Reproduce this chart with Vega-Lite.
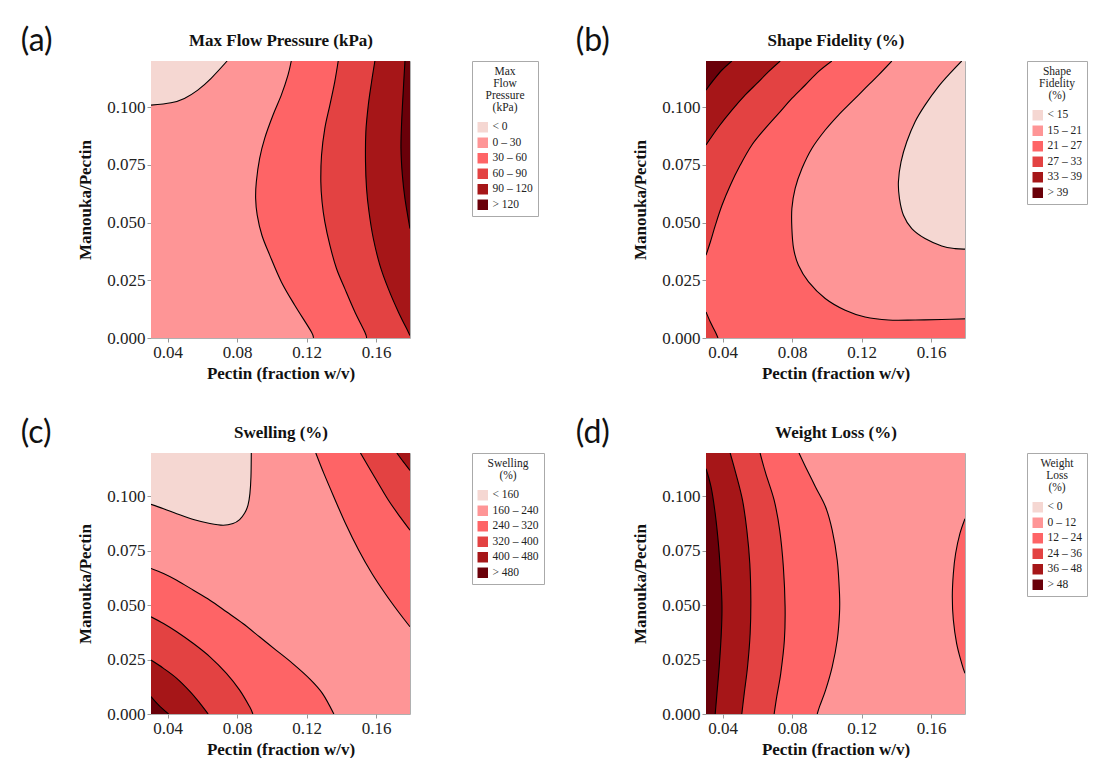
{
"$schema":"https://vega.github.io/schema/vega-lite/v6.json",
"padding":{"left":20,"top":24,"right":0,"bottom":0},
"columns":2,
"spacing":{"row":34,"column":30},
"resolve":{"scale":{"color":"independent"},"legend":{"color":"independent"}},
"config":{
 "font":"Liberation Serif",
 "view":{"stroke":"#b0b0b0","strokeWidth":1},
 "axis":{"labelFont":"Liberation Serif","labelFontSize":17,"labelColor":"#222","titleFont":"Liberation Serif","titleFontSize":17,"titleFontWeight":"bold","titleColor":"#111","tickColor":"#999","tickSize":4,"domain":false,"grid":false,"labelPadding":2},
 "legend":{"titleFont":"Liberation Serif","titleFontSize":11.5,"titleFontWeight":"normal","labelFont":"Liberation Serif","labelFontSize":11.5,"strokeColor":"#aaa","padding":5,"symbolType":"square","symbolSize":110,"symbolStrokeWidth":0,"rowPadding":2.5,"titleAlign":"center","titleAnchor":"middle","offset":62,"titlePadding":8,"titleLineHeight":12,"labelColor":"#222","titleColor":"#222","orient":"right"},
 "title":{"font":"Lato","fontSize":32,"fontWeight":"normal","anchor":"start","frame":"bounds","color":"#111"}
},
"datasets":{
"a":[
{"r":"a0","k":"0 – 30","i":0,"x":0.0305,"y":0,"e":0.1795,"s":"f"},
{"r":"a0","k":"0 – 30","i":1,"x":0.0305,"y":0.12,"e":0.1795,"s":"f"},
{"r":"a5","k":"< 0","i":1,"x":0.0305,"y":0.1009,"e":0.0305},
{"r":"a5","k":"< 0","i":2,"x":0.0420,"y":0.1019,"e":0.0305},
{"r":"a5","k":"< 0","i":3,"x":0.0497,"y":0.1038,"e":0.0305},
{"r":"a5","k":"< 0","i":4,"x":0.0574,"y":0.1074,"e":0.0305},
{"r":"a5","k":"< 0","i":5,"x":0.0651,"y":0.1125,"e":0.0305},
{"r":"a5","k":"< 0","i":6,"x":0.0743,"y":0.12,"e":0.0305},
{"r":"a1","k":"30 – 60","i":1,"x":0.1112,"y":0.12,"e":0.1795},
{"r":"a1","k":"30 – 60","i":2,"x":0.1093,"y":0.1139,"e":0.1795},
{"r":"a1","k":"30 – 60","i":3,"x":0.1055,"y":0.1053,"e":0.1795},
{"r":"a1","k":"30 – 60","i":4,"x":0.1007,"y":0.0966,"e":0.1795},
{"r":"a1","k":"30 – 60","i":5,"x":0.0959,"y":0.0865,"e":0.1795},
{"r":"a1","k":"30 – 60","i":6,"x":0.0930,"y":0.0778,"e":0.1795},
{"r":"a1","k":"30 – 60","i":7,"x":0.0911,"y":0.0677,"e":0.1795},
{"r":"a1","k":"30 – 60","i":8,"x":0.0907,"y":0.0604,"e":0.1795},
{"r":"a1","k":"30 – 60","i":9,"x":0.0916,"y":0.0532,"e":0.1795},
{"r":"a1","k":"30 – 60","i":10,"x":0.0943,"y":0.0445,"e":0.1795},
{"r":"a1","k":"30 – 60","i":11,"x":0.0988,"y":0.0359,"e":0.1795},
{"r":"a1","k":"30 – 60","i":12,"x":0.1055,"y":0.0243,"e":0.1795},
{"r":"a1","k":"30 – 60","i":13,"x":0.1132,"y":0.0142,"e":0.1795},
{"r":"a1","k":"30 – 60","i":14,"x":0.1228,"y":0.0026,"e":0.1795},
{"r":"a1","k":"30 – 60","i":15,"x":0.1237,"y":0,"e":0.1795},
{"r":"a2","k":"60 – 90","i":1,"x":0.1382,"y":0.12,"e":0.1795},
{"r":"a2","k":"60 – 90","i":2,"x":0.1362,"y":0.1110,"e":0.1795},
{"r":"a2","k":"60 – 90","i":3,"x":0.1334,"y":0.1009,"e":0.1795},
{"r":"a2","k":"60 – 90","i":4,"x":0.1305,"y":0.0908,"e":0.1795},
{"r":"a2","k":"60 – 90","i":5,"x":0.1286,"y":0.0792,"e":0.1795},
{"r":"a2","k":"60 – 90","i":6,"x":0.1282,"y":0.0677,"e":0.1795},
{"r":"a2","k":"60 – 90","i":7,"x":0.1289,"y":0.0590,"e":0.1795},
{"r":"a2","k":"60 – 90","i":8,"x":0.1305,"y":0.0503,"e":0.1795},
{"r":"a2","k":"60 – 90","i":9,"x":0.1334,"y":0.0402,"e":0.1795},
{"r":"a2","k":"60 – 90","i":10,"x":0.1372,"y":0.0301,"e":0.1795},
{"r":"a2","k":"60 – 90","i":11,"x":0.1420,"y":0.0214,"e":0.1795},
{"r":"a2","k":"60 – 90","i":12,"x":0.1478,"y":0.0113,"e":0.1795},
{"r":"a2","k":"60 – 90","i":13,"x":0.1535,"y":0.0026,"e":0.1795},
{"r":"a2","k":"60 – 90","i":14,"x":0.1545,"y":0,"e":0.1795},
{"r":"a3","k":"90 – 120","i":1,"x":0.1593,"y":0.12,"e":0.1795},
{"r":"a3","k":"90 – 120","i":2,"x":0.1574,"y":0.1110,"e":0.1795},
{"r":"a3","k":"90 – 120","i":3,"x":0.1555,"y":0.1009,"e":0.1795},
{"r":"a3","k":"90 – 120","i":4,"x":0.1541,"y":0.0893,"e":0.1795},
{"r":"a3","k":"90 – 120","i":5,"x":0.1539,"y":0.0763,"e":0.1795},
{"r":"a3","k":"90 – 120","i":6,"x":0.1545,"y":0.0648,"e":0.1795},
{"r":"a3","k":"90 – 120","i":7,"x":0.1559,"y":0.0547,"e":0.1795},
{"r":"a3","k":"90 – 120","i":8,"x":0.1584,"y":0.0431,"e":0.1795},
{"r":"a3","k":"90 – 120","i":9,"x":0.1622,"y":0.0315,"e":0.1795},
{"r":"a3","k":"90 – 120","i":10,"x":0.1670,"y":0.0214,"e":0.1795},
{"r":"a3","k":"90 – 120","i":11,"x":0.1728,"y":0.0113,"e":0.1795},
{"r":"a3","k":"90 – 120","i":12,"x":0.1785,"y":0.0026,"e":0.1795},
{"r":"a3","k":"90 – 120","i":13,"x":0.1795,"y":0.0009,"e":0.1795},
{"r":"a4","k":"> 120","i":1,"x":0.1766,"y":0.12,"e":0.1795},
{"r":"a4","k":"> 120","i":2,"x":0.1757,"y":0.1081,"e":0.1795},
{"r":"a4","k":"> 120","i":3,"x":0.1747,"y":0.0937,"e":0.1795},
{"r":"a4","k":"> 120","i":4,"x":0.1743,"y":0.0821,"e":0.1795},
{"r":"a4","k":"> 120","i":5,"x":0.1751,"y":0.0706,"e":0.1795},
{"r":"a4","k":"> 120","i":6,"x":0.1766,"y":0.0604,"e":0.1795},
{"r":"a4","k":"> 120","i":7,"x":0.1795,"y":0.0474,"e":0.1795}
],
"b":[
{"r":"b0","k":"21 – 27","i":0,"x":0.0305,"y":0,"e":0.1795,"s":"f"},
{"r":"b0","k":"21 – 27","i":1,"x":0.0305,"y":0.12,"e":0.1795,"s":"f"},
{"r":"b1","k":"27 – 33","i":1,"x":0.1029,"y":0.12,"e":0.0305},
{"r":"b1","k":"27 – 33","i":2,"x":0.0952,"y":0.1154,"e":0.0305},
{"r":"b1","k":"27 – 33","i":3,"x":0.0876,"y":0.1096,"e":0.0305},
{"r":"b1","k":"27 – 33","i":4,"x":0.0799,"y":0.1038,"e":0.0305},
{"r":"b1","k":"27 – 33","i":5,"x":0.0723,"y":0.0973,"e":0.0305},
{"r":"b1","k":"27 – 33","i":6,"x":0.0646,"y":0.0908,"e":0.0305},
{"r":"b1","k":"27 – 33","i":7,"x":0.0569,"y":0.0836,"e":0.0305},
{"r":"b1","k":"27 – 33","i":8,"x":0.0502,"y":0.0749,"e":0.0305},
{"r":"b1","k":"27 – 33","i":9,"x":0.0445,"y":0.0662,"e":0.0305},
{"r":"b1","k":"27 – 33","i":10,"x":0.0397,"y":0.0575,"e":0.0305},
{"r":"b1","k":"27 – 33","i":11,"x":0.0359,"y":0.0489,"e":0.0305},
{"r":"b1","k":"27 – 33","i":12,"x":0.0330,"y":0.0416,"e":0.0305},
{"r":"b1","k":"27 – 33","i":13,"x":0.0305,"y":0.0359,"e":0.0305},
{"r":"b2","k":"33 – 39","i":1,"x":0.0732,"y":0.12,"e":0.0305},
{"r":"b2","k":"33 – 39","i":2,"x":0.0665,"y":0.1154,"e":0.0305},
{"r":"b2","k":"33 – 39","i":3,"x":0.0598,"y":0.1103,"e":0.0305},
{"r":"b2","k":"33 – 39","i":4,"x":0.0531,"y":0.1053,"e":0.0305},
{"r":"b2","k":"33 – 39","i":5,"x":0.0454,"y":0.0987,"e":0.0305},
{"r":"b2","k":"33 – 39","i":6,"x":0.0378,"y":0.0915,"e":0.0305},
{"r":"b2","k":"33 – 39","i":7,"x":0.0305,"y":0.0836,"e":0.0305},
{"r":"b3","k":"> 39","i":1,"x":0.0454,"y":0.12,"e":0.0305},
{"r":"b3","k":"> 39","i":2,"x":0.0397,"y":0.1161,"e":0.0305},
{"r":"b3","k":"> 39","i":3,"x":0.0349,"y":0.1118,"e":0.0305},
{"r":"b3","k":"> 39","i":4,"x":0.0305,"y":0.1074,"e":0.0305},
{"r":"b4","k":"15 – 21","i":1,"x":0.1374,"y":0.12,"e":0.1795},
{"r":"b4","k":"15 – 21","i":2,"x":0.1297,"y":0.1139,"e":0.1795},
{"r":"b4","k":"15 – 21","i":3,"x":0.1220,"y":0.1081,"e":0.1795},
{"r":"b4","k":"15 – 21","i":4,"x":0.1144,"y":0.1024,"e":0.1795},
{"r":"b4","k":"15 – 21","i":5,"x":0.1067,"y":0.0966,"e":0.1795},
{"r":"b4","k":"15 – 21","i":6,"x":0.0991,"y":0.0901,"e":0.1795},
{"r":"b4","k":"15 – 21","i":7,"x":0.0914,"y":0.0821,"e":0.1795},
{"r":"b4","k":"15 – 21","i":8,"x":0.0857,"y":0.0734,"e":0.1795},
{"r":"b4","k":"15 – 21","i":9,"x":0.0818,"y":0.0648,"e":0.1795},
{"r":"b4","k":"15 – 21","i":10,"x":0.0799,"y":0.0561,"e":0.1795},
{"r":"b4","k":"15 – 21","i":11,"x":0.0799,"y":0.0474,"e":0.1795},
{"r":"b4","k":"15 – 21","i":12,"x":0.0809,"y":0.0387,"e":0.1795},
{"r":"b4","k":"15 – 21","i":13,"x":0.0837,"y":0.0315,"e":0.1795},
{"r":"b4","k":"15 – 21","i":14,"x":0.0895,"y":0.0243,"e":0.1795},
{"r":"b4","k":"15 – 21","i":15,"x":0.0991,"y":0.0171,"e":0.1795},
{"r":"b4","k":"15 – 21","i":16,"x":0.1106,"y":0.0120,"e":0.1795},
{"r":"b4","k":"15 – 21","i":17,"x":0.1220,"y":0.0091,"e":0.1795},
{"r":"b4","k":"15 – 21","i":18,"x":0.1355,"y":0.0078,"e":0.1795},
{"r":"b4","k":"15 – 21","i":19,"x":0.1508,"y":0.0078,"s":"l"},
{"r":"b4","k":"15 – 21","i":20,"x":0.1661,"y":0.0080,"s":"l"},
{"r":"b4","k":"15 – 21","i":21,"x":0.1795,"y":0.0083,"s":"l"},
{"r":"b5","k":"< 15","i":1,"x":0.1776,"y":0.12,"e":0.1795},
{"r":"b5","k":"< 15","i":2,"x":0.1718,"y":0.1154,"e":0.1795},
{"r":"b5","k":"< 15","i":3,"x":0.1642,"y":0.1089,"e":0.1795},
{"r":"b5","k":"< 15","i":4,"x":0.1565,"y":0.1009,"e":0.1795},
{"r":"b5","k":"< 15","i":5,"x":0.1508,"y":0.0937,"e":0.1795},
{"r":"b5","k":"< 15","i":6,"x":0.1460,"y":0.0850,"e":0.1795},
{"r":"b5","k":"< 15","i":7,"x":0.1427,"y":0.0763,"e":0.1795},
{"r":"b5","k":"< 15","i":8,"x":0.1412,"y":0.0677,"e":0.1795},
{"r":"b5","k":"< 15","i":9,"x":0.1418,"y":0.0604,"e":0.1795},
{"r":"b5","k":"< 15","i":10,"x":0.1441,"y":0.0532,"e":0.1795},
{"r":"b5","k":"< 15","i":11,"x":0.1489,"y":0.0474,"e":0.1795},
{"r":"b5","k":"< 15","i":12,"x":0.1565,"y":0.0431,"e":0.1795},
{"r":"b5","k":"< 15","i":13,"x":0.1661,"y":0.0399,"e":0.1795},
{"r":"b5","k":"< 15","i":14,"x":0.1738,"y":0.0387,"e":0.1795},
{"r":"b5","k":"< 15","i":15,"x":0.1795,"y":0.0385,"e":0.1795},
{"r":"b6","k":"27 – 33","i":1,"x":0.0305,"y":0.0113,"e":0.0305},
{"r":"b6","k":"27 – 33","i":2,"x":0.0330,"y":0.0069,"e":0.0305},
{"r":"b6","k":"27 – 33","i":3,"x":0.0359,"y":0.0026,"e":0.0305},
{"r":"b6","k":"27 – 33","i":4,"x":0.0374,"y":0,"e":0.0305}
],
"c":[
{"r":"c0","k":"160 – 240","i":0,"x":0.0305,"y":0,"e":0.12,"s":"f"},
{"r":"c0","k":"160 – 240","i":1,"x":0.1795,"y":0,"e":0.12,"s":"f"},
{"r":"c1","k":"< 160","i":1,"x":0.0305,"y":0.0964,"e":0.12},
{"r":"c1","k":"< 160","i":2,"x":0.0377,"y":0.0944,"e":0.12},
{"r":"c1","k":"< 160","i":3,"x":0.0453,"y":0.0921,"e":0.12},
{"r":"c1","k":"< 160","i":4,"x":0.0549,"y":0.0894,"e":0.12},
{"r":"c1","k":"< 160","i":5,"x":0.0644,"y":0.0876,"e":0.12},
{"r":"c1","k":"< 160","i":6,"x":0.0720,"y":0.0868,"e":0.12},
{"r":"c1","k":"< 160","i":7,"x":0.0777,"y":0.0876,"e":0.12},
{"r":"c1","k":"< 160","i":8,"x":0.0815,"y":0.0894,"e":0.12},
{"r":"c1","k":"< 160","i":9,"x":0.0844,"y":0.0924,"e":0.12},
{"r":"c1","k":"< 160","i":10,"x":0.0863,"y":0.0960,"e":0.12},
{"r":"c1","k":"< 160","i":11,"x":0.0874,"y":0.1013,"e":0.12},
{"r":"c1","k":"< 160","i":12,"x":0.0880,"y":0.1090,"e":0.12},
{"r":"c1","k":"< 160","i":13,"x":0.0882,"y":0.12,"e":0.12},
{"r":"c2","k":"240 – 320","i":1,"x":0.0305,"y":0.0669,"e":0},
{"r":"c2","k":"240 – 320","i":2,"x":0.0377,"y":0.0646,"e":0},
{"r":"c2","k":"240 – 320","i":3,"x":0.0453,"y":0.0615,"e":0},
{"r":"c2","k":"240 – 320","i":4,"x":0.0549,"y":0.0569,"e":0},
{"r":"c2","k":"240 – 320","i":5,"x":0.0644,"y":0.0523,"e":0},
{"r":"c2","k":"240 – 320","i":6,"x":0.0739,"y":0.0470,"e":0},
{"r":"c2","k":"240 – 320","i":7,"x":0.0834,"y":0.0416,"e":0},
{"r":"c2","k":"240 – 320","i":8,"x":0.0929,"y":0.0355,"e":0},
{"r":"c2","k":"240 – 320","i":9,"x":0.1024,"y":0.0294,"e":0},
{"r":"c2","k":"240 – 320","i":10,"x":0.1119,"y":0.0233,"e":0},
{"r":"c2","k":"240 – 320","i":11,"x":0.1215,"y":0.0164,"e":0},
{"r":"c2","k":"240 – 320","i":12,"x":0.1291,"y":0.0095,"e":0},
{"r":"c2","k":"240 – 320","i":13,"x":0.1357,"y":0,"e":0},
{"r":"c3","k":"320 – 400","i":1,"x":0.0305,"y":0.0447,"e":0},
{"r":"c3","k":"320 – 400","i":2,"x":0.0377,"y":0.0416,"e":0},
{"r":"c3","k":"320 – 400","i":3,"x":0.0453,"y":0.0378,"e":0},
{"r":"c3","k":"320 – 400","i":4,"x":0.0549,"y":0.0324,"e":0},
{"r":"c3","k":"320 – 400","i":5,"x":0.0644,"y":0.0263,"e":0},
{"r":"c3","k":"320 – 400","i":6,"x":0.0739,"y":0.0187,"e":0},
{"r":"c3","k":"320 – 400","i":7,"x":0.0815,"y":0.0110,"e":0},
{"r":"c3","k":"320 – 400","i":8,"x":0.0872,"y":0.0034,"e":0},
{"r":"c3","k":"320 – 400","i":9,"x":0.0891,"y":0,"e":0},
{"r":"c4","k":"400 – 480","i":1,"x":0.0305,"y":0.0248,"e":0},
{"r":"c4","k":"400 – 480","i":2,"x":0.0377,"y":0.0210,"e":0},
{"r":"c4","k":"400 – 480","i":3,"x":0.0453,"y":0.0164,"e":0},
{"r":"c4","k":"400 – 480","i":4,"x":0.0530,"y":0.0103,"e":0},
{"r":"c4","k":"400 – 480","i":5,"x":0.0587,"y":0.0049,"e":0},
{"r":"c4","k":"400 – 480","i":6,"x":0.0634,"y":0,"e":0},
{"r":"c5","k":"> 480","i":1,"x":0.0305,"y":0.0080,"e":0},
{"r":"c5","k":"> 480","i":2,"x":0.0349,"y":0.0041,"e":0},
{"r":"c5","k":"> 480","i":3,"x":0.0406,"y":0,"e":0},
{"r":"c6","k":"240 – 320","i":1,"x":0.1253,"y":0.12,"e":0.12},
{"r":"c6","k":"240 – 320","i":2,"x":0.1300,"y":0.1105,"e":0.12},
{"r":"c6","k":"240 – 320","i":3,"x":0.1357,"y":0.0998,"e":0.12},
{"r":"c6","k":"240 – 320","i":4,"x":0.1424,"y":0.0876,"e":0.12},
{"r":"c6","k":"240 – 320","i":5,"x":0.1500,"y":0.0753,"e":0.12},
{"r":"c6","k":"240 – 320","i":6,"x":0.1576,"y":0.0646,"e":0.12},
{"r":"c6","k":"240 – 320","i":7,"x":0.1652,"y":0.0554,"e":0.12},
{"r":"c6","k":"240 – 320","i":8,"x":0.1728,"y":0.0470,"e":0.12},
{"r":"c6","k":"240 – 320","i":9,"x":0.1795,"y":0.0401,"e":0.12},
{"r":"c7","k":"320 – 400","i":1,"x":0.1510,"y":0.12,"e":0.12},
{"r":"c7","k":"320 – 400","i":2,"x":0.1557,"y":0.1136,"e":0.12},
{"r":"c7","k":"320 – 400","i":3,"x":0.1614,"y":0.1059,"e":0.12},
{"r":"c7","k":"320 – 400","i":4,"x":0.1671,"y":0.0983,"e":0.12},
{"r":"c7","k":"320 – 400","i":5,"x":0.1738,"y":0.0906,"e":0.12},
{"r":"c7","k":"320 – 400","i":6,"x":0.1795,"y":0.0845,"e":0.12},
{"r":"c8","k":"400 – 480","i":1,"x":0.1719,"y":0.12,"e":0.12},
{"r":"c8","k":"400 – 480","i":2,"x":0.1757,"y":0.1159,"e":0.12},
{"r":"c8","k":"400 – 480","i":3,"x":0.1795,"y":0.1120,"e":0.12}
],
"d":[
{"r":"d0","k":"0 – 12","i":0,"x":0.0305,"y":0,"e":0.1795,"s":"f"},
{"r":"d0","k":"0 – 12","i":1,"x":0.0305,"y":0.12,"e":0.1795,"s":"f"},
{"r":"d1","k":"12 – 24","i":1,"x":0.0840,"y":0.12,"e":0.0305},
{"r":"d1","k":"12 – 24","i":2,"x":0.0878,"y":0.1136,"e":0.0305},
{"r":"d1","k":"12 – 24","i":3,"x":0.0935,"y":0.1044,"e":0.0305},
{"r":"d1","k":"12 – 24","i":4,"x":0.0993,"y":0.0952,"e":0.0305},
{"r":"d1","k":"12 – 24","i":5,"x":0.1031,"y":0.0845,"e":0.0305},
{"r":"d1","k":"12 – 24","i":6,"x":0.1060,"y":0.0707,"e":0.0305},
{"r":"d1","k":"12 – 24","i":7,"x":0.1073,"y":0.0554,"e":0.0305},
{"r":"d1","k":"12 – 24","i":8,"x":0.1073,"y":0.0462,"e":0.0305},
{"r":"d1","k":"12 – 24","i":9,"x":0.1060,"y":0.0340,"e":0.0305},
{"r":"d1","k":"12 – 24","i":10,"x":0.1031,"y":0.0217,"e":0.0305},
{"r":"d1","k":"12 – 24","i":11,"x":0.0993,"y":0.0110,"e":0.0305},
{"r":"d1","k":"12 – 24","i":12,"x":0.0958,"y":0.0034,"e":0.0305},
{"r":"d1","k":"12 – 24","i":13,"x":0.0945,"y":0,"e":0.0305},
{"r":"d2","k":"24 – 36","i":1,"x":0.0616,"y":0.12,"e":0.0305},
{"r":"d2","k":"24 – 36","i":2,"x":0.0649,"y":0.1105,"e":0.0305},
{"r":"d2","k":"24 – 36","i":3,"x":0.0697,"y":0.0983,"e":0.0305},
{"r":"d2","k":"24 – 36","i":4,"x":0.0729,"y":0.0845,"e":0.0305},
{"r":"d2","k":"24 – 36","i":5,"x":0.0750,"y":0.0677,"e":0.0305},
{"r":"d2","k":"24 – 36","i":6,"x":0.0760,"y":0.0493,"e":0.0305},
{"r":"d2","k":"24 – 36","i":7,"x":0.0756,"y":0.0340,"e":0.0305},
{"r":"d2","k":"24 – 36","i":8,"x":0.0735,"y":0.0187,"e":0.0305},
{"r":"d2","k":"24 – 36","i":9,"x":0.0712,"y":0.0080,"e":0.0305},
{"r":"d2","k":"24 – 36","i":10,"x":0.0697,"y":0,"e":0.0305},
{"r":"d3","k":"36 – 48","i":1,"x":0.0444,"y":0.12,"e":0.0305},
{"r":"d3","k":"36 – 48","i":2,"x":0.0477,"y":0.1105,"e":0.0305},
{"r":"d3","k":"36 – 48","i":3,"x":0.0515,"y":0.0983,"e":0.0305},
{"r":"d3","k":"36 – 48","i":4,"x":0.0540,"y":0.0845,"e":0.0305},
{"r":"d3","k":"36 – 48","i":5,"x":0.0557,"y":0.0692,"e":0.0305},
{"r":"d3","k":"36 – 48","i":6,"x":0.0563,"y":0.0523,"e":0.0305},
{"r":"d3","k":"36 – 48","i":7,"x":0.0559,"y":0.0370,"e":0.0305},
{"r":"d3","k":"36 – 48","i":8,"x":0.0544,"y":0.0217,"e":0.0305},
{"r":"d3","k":"36 – 48","i":9,"x":0.0525,"y":0.0095,"e":0.0305},
{"r":"d3","k":"36 – 48","i":10,"x":0.0511,"y":0,"e":0.0305},
{"r":"d4","k":"> 48","i":1,"x":0.0305,"y":0.1128,"e":0.0305},
{"r":"d4","k":"> 48","i":2,"x":0.0334,"y":0.1044,"e":0.0305},
{"r":"d4","k":"> 48","i":3,"x":0.0358,"y":0.0921,"e":0.0305},
{"r":"d4","k":"> 48","i":4,"x":0.0378,"y":0.0768,"e":0.0305},
{"r":"d4","k":"> 48","i":5,"x":0.0391,"y":0.0615,"e":0.0305},
{"r":"d4","k":"> 48","i":6,"x":0.0397,"y":0.0493,"e":0.0305},
{"r":"d4","k":"> 48","i":7,"x":0.0393,"y":0.0370,"e":0.0305},
{"r":"d4","k":"> 48","i":8,"x":0.0381,"y":0.0217,"e":0.0305},
{"r":"d4","k":"> 48","i":9,"x":0.0368,"y":0.0095,"e":0.0305},
{"r":"d4","k":"> 48","i":10,"x":0.0358,"y":0,"e":0.0305},
{"r":"d5","k":"12 – 24","i":1,"x":0.1795,"y":0.0898,"e":0.1795},
{"r":"d5","k":"12 – 24","i":2,"x":0.1766,"y":0.0830,"e":0.1795},
{"r":"d5","k":"12 – 24","i":3,"x":0.1741,"y":0.0738,"e":0.1795},
{"r":"d5","k":"12 – 24","i":4,"x":0.1728,"y":0.0646,"e":0.1795},
{"r":"d5","k":"12 – 24","i":5,"x":0.1722,"y":0.0539,"e":0.1795},
{"r":"d5","k":"12 – 24","i":6,"x":0.1728,"y":0.0432,"e":0.1795},
{"r":"d5","k":"12 – 24","i":7,"x":0.1747,"y":0.0324,"e":0.1795},
{"r":"d5","k":"12 – 24","i":8,"x":0.1776,"y":0.0233,"e":0.1795},
{"r":"d5","k":"12 – 24","i":9,"x":0.1795,"y":0.0187,"e":0.1795}
]
},
"concat":[
{
 "title":{"text":"(a)","dx":-56,"dy":31},
 "width":259,"height":277,
 "data":{"name":"a"},
 "resolve":{"axis":{"x":"independent"}},
 "layer":[
  {"transform":[{"filter":"datum.s != 'l'"}],
   "mark":{"type":"area","orient":"horizontal","interpolate":"cardinal","clip":true},
   "encoding":{
    "y":{"field":"y","type":"quantitative","title":"Manouka/Pectin","scale":{"domain":[0,0.12],"nice":false,"zero":false},"axis":{"values":[0,0.025,0.05,0.075,0.1],"format":".3f","titlePadding":12}},
    "x":{"field":"x","type":"quantitative","title":"Pectin (fraction w/v)","stack":null,"scale":{"domain":[0.0305,0.1795],"nice":false,"zero":false},"axis":{"values":[0.04,0.08,0.12,0.16],"format":".2f","titlePadding":5}},
    "x2":{"field":"e"},
    "detail":{"field":"r"},
    "color":{"field":"k","type":"nominal","scale":{"domain":["< 0","0 – 30","30 – 60","60 – 90","90 – 120","> 120"],"range":["#f5d7d2","#fe9596","#fe6466","#e34242","#a61618","#6a0009"]},"legend":{"title":["Max","Flow","Pressure","(kPa)"]}}
   }},
  {"transform":[{"filter":"datum.s != 'f'"}],
   "mark":{"type":"line","interpolate":"cardinal","color":"black","strokeWidth":1.1,"clip":true},
   "encoding":{
    "x":{"field":"x","type":"quantitative","title":"Max Flow Pressure  (kPa)","scale":{"domain":[0.0305,0.1795],"nice":false,"zero":false},"axis":{"orient":"top","labels":false,"ticks":false,"domain":false,"tickSize":0,"labelPadding":0,"titlePadding":12}},
    "y":{"field":"y","type":"quantitative","title":"Manouka/Pectin"},
    "detail":{"field":"r"},
    "order":{"field":"i"}
   }}
 ]
},
{
 "title":{"text":"(b)","dx":-56,"dy":31},
 "width":259,"height":277,
 "data":{"name":"b"},
 "resolve":{"axis":{"x":"independent"}},
 "layer":[
  {"transform":[{"filter":"datum.s != 'l'"}],
   "mark":{"type":"area","orient":"horizontal","interpolate":"cardinal","clip":true},
   "encoding":{
    "y":{"field":"y","type":"quantitative","title":"Manouka/Pectin","scale":{"domain":[0,0.12],"nice":false,"zero":false},"axis":{"values":[0,0.025,0.05,0.075,0.1],"format":".3f","titlePadding":12}},
    "x":{"field":"x","type":"quantitative","title":"Pectin (fraction w/v)","stack":null,"scale":{"domain":[0.0305,0.1795],"nice":false,"zero":false},"axis":{"values":[0.04,0.08,0.12,0.16],"format":".2f","titlePadding":5}},
    "x2":{"field":"e"},
    "detail":{"field":"r"},
    "color":{"field":"k","type":"nominal","scale":{"domain":["< 15","15 – 21","21 – 27","27 – 33","33 – 39","> 39"],"range":["#f5d7d2","#fe9596","#fe6466","#e34242","#a61618","#6a0009"]},"legend":{"title":["Shape","Fidelity","(%)"]}}
   }},
  {"transform":[{"filter":"datum.s != 'f'"}],
   "mark":{"type":"line","interpolate":"cardinal","color":"black","strokeWidth":1.1,"clip":true},
   "encoding":{
    "x":{"field":"x","type":"quantitative","title":"Shape Fidelity (%)","scale":{"domain":[0.0305,0.1795],"nice":false,"zero":false},"axis":{"orient":"top","labels":false,"ticks":false,"domain":false,"tickSize":0,"labelPadding":0,"titlePadding":12}},
    "y":{"field":"y","type":"quantitative","title":"Manouka/Pectin"},
    "detail":{"field":"r"},
    "order":{"field":"i"}
   }}
 ]
},
{
 "title":{"text":"(c)","dx":-56,"dy":31},
 "width":259,"height":261,
 "data":{"name":"c"},
 "resolve":{"axis":{"x":"independent"}},
 "layer":[
  {"transform":[{"filter":"datum.s != 'l'"}],
   "mark":{"type":"area","orient":"vertical","interpolate":"cardinal","clip":true},
   "encoding":{
    "x":{"field":"x","type":"quantitative","title":"Pectin (fraction w/v)","scale":{"domain":[0.0305,0.1795],"nice":false,"zero":false},"axis":{"values":[0.04,0.08,0.12,0.16],"format":".2f","titlePadding":5}},
    "y":{"field":"y","type":"quantitative","title":"Manouka/Pectin","stack":null,"scale":{"domain":[0,0.12],"nice":false,"zero":false},"axis":{"values":[0,0.025,0.05,0.075,0.1],"format":".3f","titlePadding":12}},
    "y2":{"field":"e"},
    "detail":{"field":"r"},
    "color":{"field":"k","type":"nominal","scale":{"domain":["< 160","160 – 240","240 – 320","320 – 400","400 – 480","> 480"],"range":["#f5d7d2","#fe9596","#fe6466","#e34242","#a61618","#6a0009"]},"legend":{"title":["Swelling","(%)"]}}
   }},
  {"transform":[{"filter":"datum.s != 'f'"}],
   "mark":{"type":"line","interpolate":"cardinal","color":"black","strokeWidth":1.1,"clip":true},
   "encoding":{
    "x":{"field":"x","type":"quantitative","title":"Swelling (%)","scale":{"domain":[0.0305,0.1795],"nice":false,"zero":false},"axis":{"orient":"top","labels":false,"ticks":false,"domain":false,"tickSize":0,"labelPadding":0,"titlePadding":12}},
    "y":{"field":"y","type":"quantitative","title":"Manouka/Pectin"},
    "detail":{"field":"r"},
    "order":{"field":"i"}
   }}
 ]
},
{
 "title":{"text":"(d)","dx":-56,"dy":31},
 "width":259,"height":261,
 "data":{"name":"d"},
 "resolve":{"axis":{"x":"independent"}},
 "layer":[
  {"transform":[{"filter":"datum.s != 'l'"}],
   "mark":{"type":"area","orient":"horizontal","interpolate":"cardinal","clip":true},
   "encoding":{
    "y":{"field":"y","type":"quantitative","title":"Manouka/Pectin","scale":{"domain":[0,0.12],"nice":false,"zero":false},"axis":{"values":[0,0.025,0.05,0.075,0.1],"format":".3f","titlePadding":12}},
    "x":{"field":"x","type":"quantitative","title":"Pectin (fraction w/v)","stack":null,"scale":{"domain":[0.0305,0.1795],"nice":false,"zero":false},"axis":{"values":[0.04,0.08,0.12,0.16],"format":".2f","titlePadding":5}},
    "x2":{"field":"e"},
    "detail":{"field":"r"},
    "color":{"field":"k","type":"nominal","scale":{"domain":["< 0","0 – 12","12 – 24","24 – 36","36 – 48","> 48"],"range":["#f5d7d2","#fe9596","#fe6466","#e34242","#a61618","#6a0009"]},"legend":{"title":["Weight","Loss","(%)"]}}
   }},
  {"transform":[{"filter":"datum.s != 'f'"}],
   "mark":{"type":"line","interpolate":"cardinal","color":"black","strokeWidth":1.1,"clip":true},
   "encoding":{
    "x":{"field":"x","type":"quantitative","title":"Weight Loss (%)","scale":{"domain":[0.0305,0.1795],"nice":false,"zero":false},"axis":{"orient":"top","labels":false,"ticks":false,"domain":false,"tickSize":0,"labelPadding":0,"titlePadding":12}},
    "y":{"field":"y","type":"quantitative","title":"Manouka/Pectin"},
    "detail":{"field":"r"},
    "order":{"field":"i"}
   }}
 ]
}
]
}
